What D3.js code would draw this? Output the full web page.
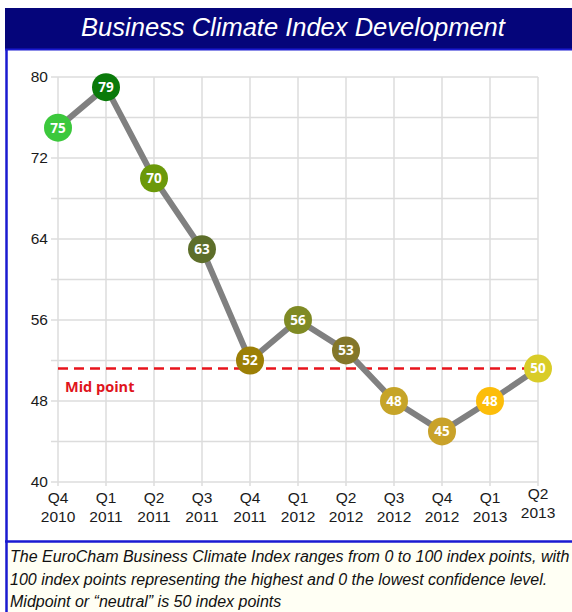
<!DOCTYPE html>
<html>
<head>
<meta charset="utf-8">
<script src="https://cdn.jsdelivr.net/npm/d3@7"></script>
<style>
  body { margin: 0; background: #fff; }
  svg { display: block; }
</style>
</head>
<body>
<div id="chart"></div>
<script>
/* Chart data. */
let quarters = ["Q4", "Q1", "Q2", "Q3", "Q4", "Q1", "Q2", "Q3", "Q4", "Q1", "Q2"];
let years = ["2010", "2011", "2011", "2011", "2011", "2012", "2012", "2012", "2012", "2013", "2013"];
/* Plotted heights; the last point sits on the mid point line. */
let values = [75, 79, 70, 63, 52, 56, 53, 48, 45, 48, 51.2];
let pointLabels = ["75", "79", "70", "63", "52", "56", "53", "48", "45", "48", "50"];
let pointColors = ["#3cc83c", "#0a7a0a", "#6b990a", "#5d6e2a", "#9c7f06", "#7f8a24",
                   "#83772a", "#c6a428", "#c9a22a", "#fcbd0a", "#d9cc28"];
let yTicks = [40, 48, 56, 64, 72, 80];
let yGrid = [40, 44, 48, 52, 56, 60, 64, 68, 72, 76, 80];
let midPoint = 51.2;
let title = "Business Climate Index Development";
let footer = [
    "The EuroCham Business Climate Index ranges from 0 to 100 index points, with",
    "100 index points representing the highest and 0 the lowest confidence level.",
    "Midpoint or \u201cneutral\u201d is 50 index points"
];

let width = 572, height = 612;

let svg = d3.select("#chart").append("svg")
    .attr("width", width)
    .attr("height", height);

/* Panels: title banner, chart area, footer note. */
svg.append("rect")
    .attr("x", 5).attr("y", 8).attr("width", width - 5).attr("height", 41)
    .attr("fill", "#05057a");
svg.append("rect")
    .attr("x", 5).attr("y", 542).attr("width", width - 5).attr("height", 70)
    .attr("fill", "#fffff4");
svg.append("line")
    .attr("x1", 5).attr("x2", width).attr("y1", 49.5).attr("y2", 49.5)
    .attr("stroke", "#1a1ad0").attr("stroke-width", 2);
svg.append("line")
    .attr("x1", 5).attr("x2", width).attr("y1", 541.5).attr("y2", 541.5)
    .attr("stroke", "#1a1ad0").attr("stroke-width", 2.5);
svg.append("line")
    .attr("x1", 6.5).attr("x2", 6.5).attr("y1", 49).attr("y2", height)
    .attr("stroke", "#1a1ad0").attr("stroke-width", 2.5);

svg.append("text")
    .attr("x", 293).attr("y", 36)
    .attr("text-anchor", "middle")
    .attr("fill", "#fff")
    .style("font", "italic 25.5px 'Liberation Sans', Arial, sans-serif")
    .text(title);

/* Scales */
let x = d3.scalePoint()
    .domain(d3.range(quarters.length))
    .range([58, 538]);
let y = d3.scaleLinear()
    .domain([40, 80])
    .range([482, 77]);

/* Grid */
let grid = svg.append("g").attr("class", "grid");
grid.selectAll("line.h")
    .data(yGrid)
    .enter().append("line")
    .attr("class", "h")
    .attr("x1", 51).attr("x2", x(quarters.length - 1))
    .attr("y1", d => y(d)).attr("y2", d => y(d))
    .attr("stroke", "#dcdcdc").attr("stroke-width", 1.5);
grid.selectAll("line.v")
    .data(d3.range(quarters.length))
    .enter().append("line")
    .attr("class", "v")
    .attr("x1", d => x(d)).attr("x2", d => x(d))
    .attr("y1", y(80)).attr("y2", y(40) + 4)
    .attr("stroke", "#dcdcdc").attr("stroke-width", 1.5);

/* Y axis labels */
let yaxis = d3.axisLeft(y).tickValues(yTicks).tickSize(0).tickPadding(0);
svg.append("g")
    .attr("transform", "translate(48, 0)")
    .call(yaxis)
    .call(g => g.select(".domain").remove())
    .selectAll("text")
    .attr("fill", "#1a1a1a")
    .style("font", "15.5px 'Liberation Sans', Arial, sans-serif");

/* X axis labels, two lines each */
let xl = svg.append("g").selectAll("text")
    .data(d3.range(quarters.length))
    .enter().append("text")
    .attr("text-anchor", "middle")
    .attr("fill", "#1a1a1a")
    .style("font", "15.5px 'Liberation Sans', Arial, sans-serif")
    .attr("transform", d => "translate(" + x(d) + "," + (d === quarters.length - 1 ? 499 : 503) + ")");
xl.append("tspan").attr("x", 0).attr("y", 0).text(d => quarters[d]);
xl.append("tspan").attr("x", 0).attr("y", 19).text(d => years[d]);

/* Mid point reference */
svg.append("line")
    .attr("x1", x(0)).attr("x2", x(quarters.length - 1))
    .attr("y1", y(midPoint)).attr("y2", y(midPoint))
    .attr("stroke", "#e8141c")
    .attr("stroke-width", 2.5)
    .attr("stroke-dasharray", "10,6");
svg.append("text")
    .attr("x", 65).attr("y", y(midPoint) + 23)
    .attr("fill", "#e0141c")
    .style("font", "bold 14.5px 'Open Sans', sans-serif")
    .text("Mid point");

/* Index line */
let line = d3.line()
    .x((d, i) => x(i))
    .y(d => y(d));
svg.append("path")
    .attr("d", line(values))
    .attr("fill", "none")
    .attr("stroke", "#808080")
    .attr("stroke-width", 6)
    .attr("stroke-linejoin", "round");

/* Points */
let pts = svg.append("g").selectAll("g")
    .data(values)
    .enter().append("g")
    .attr("transform", (d, i) => "translate(" + x(i) + "," + y(d) + ")");
pts.append("circle")
    .attr("r", 14)
    .attr("fill", (d, i) => pointColors[i]);
pts.append("text")
    .attr("text-anchor", "middle")
    .attr("dy", "0.36em")
    .attr("fill", "#fff")
    .style("font", "bold 13.5px 'Open Sans', sans-serif")
    .text((d, i) => pointLabels[i]);

/* Footer note */
svg.append("g").selectAll("text")
    .data(footer)
    .enter().append("text")
    .attr("x", 10)
    .attr("y", (d, i) => 562 + i * 22.5)
    .attr("fill", "#111")
    .style("font", "italic 16px 'Liberation Sans', Arial, sans-serif")
    .text(d => d);
</script>
</body>
</html>
